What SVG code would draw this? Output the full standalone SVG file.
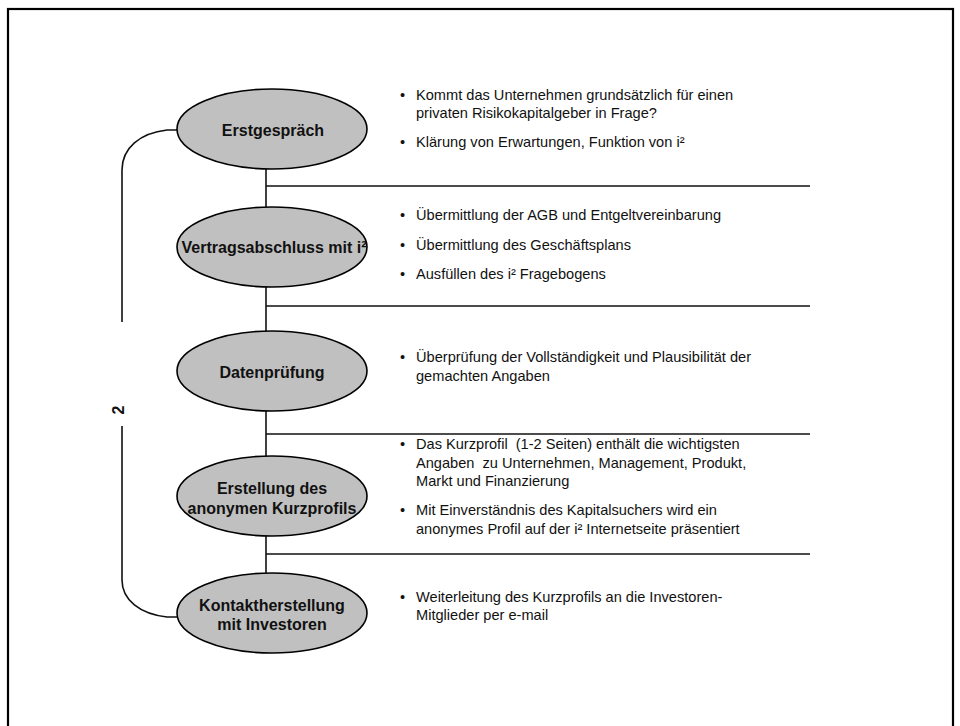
<svg xmlns="http://www.w3.org/2000/svg" width="960" height="726" viewBox="0 0 960 726">
<style>
.node ellipse{fill:#C0C0C0;stroke:#000;stroke-width:1.6}
.lbl{font-family:"Liberation Sans",Arial,sans-serif;font-weight:bold;font-size:16px;fill:#111;text-anchor:middle}
.txt{font-family:"Liberation Sans",Arial,sans-serif;font-size:14.6px;fill:#111}
.conn path,.conn line{fill:none;stroke:#111;stroke-width:1.6}
.sep{stroke:#222;stroke-width:2}
</style>
<rect x="8" y="9" width="945" height="760" fill="#fff" stroke="#000" stroke-width="2.2"/>
<g id="connectors" class="conn">
<line x1="266" y1="169" x2="266" y2="207"/>
<line x1="266" y1="287" x2="266" y2="332"/>
<line x1="266" y1="411" x2="266" y2="457"/>
<line x1="266" y1="536" x2="266" y2="573"/>
<line class="sep" x1="266" y1="186" x2="810" y2="186"/>
<line class="sep" x1="266" y1="306" x2="810" y2="306"/>
<line class="sep" x1="266" y1="434" x2="810" y2="434"/>
<line class="sep" x1="266" y1="554" x2="810" y2="554"/>
<path d="M177,130 L167,130 C140,133 122,148 122,170 L122,322"/>
<path d="M122,426 L122,580 C122,600 140,614 167,617 L177,617"/>
</g>
<text class="lbl" transform="translate(124,410) rotate(-90)">2</text>
<g id="n1" class="node">
<ellipse cx="272" cy="129" rx="95" ry="40"/>
<text class="lbl" x="273" y="136">Erstgespräch</text>
</g>
<g id="n2" class="node">
<ellipse cx="272" cy="247" rx="95" ry="40"/>
<text class="lbl" x="274" y="253">Vertragsabschluss mit i²</text>
</g>
<g id="n3" class="node">
<ellipse cx="272" cy="371" rx="95" ry="40"/>
<text class="lbl" x="272" y="378">Datenprüfung</text>
</g>
<g id="n4" class="node">
<ellipse cx="272" cy="496" rx="95" ry="40"/>
<text class="lbl" x="272" y="494">Erstellung des</text>
<text class="lbl" x="272" y="514">anonymen Kurzprofils</text>
</g>
<g id="n5" class="node">
<ellipse cx="272" cy="613" rx="95" ry="40"/>
<text class="lbl" x="272" y="611">Kontaktherstellung</text>
<text class="lbl" x="272" y="630">mit Investoren</text>
</g>
<g id="t1" class="txt">
<text x="400" y="100">•</text>
<text x="416" y="100">Kommt das Unternehmen grundsätzlich für einen</text>
<text x="416" y="118">privaten Risikokapitalgeber in Frage?</text>
<text x="400" y="147">•</text>
<text x="416" y="147">Klärung von Erwartungen, Funktion von i²</text>
</g>
<g id="t2" class="txt">
<text x="400" y="220">•</text>
<text x="416" y="220">Übermittlung der AGB und Entgeltvereinbarung</text>
<text x="400" y="250">•</text>
<text x="416" y="250">Übermittlung des Geschäftsplans</text>
<text x="400" y="279">•</text>
<text x="416" y="279">Ausfüllen des i² Fragebogens</text>
</g>
<g id="t3" class="txt">
<text x="400" y="362">•</text>
<text x="416" y="362">Überprüfung der Vollständigkeit und Plausibilität der</text>
<text x="416" y="381">gemachten Angaben</text>
</g>
<g id="t4" class="txt">
<text x="400" y="449">•</text>
<text x="416" y="449" xml:space="preserve">Das Kurzprofil  (1-2 Seiten) enthält die wichtigsten</text>
<text x="416" y="468" xml:space="preserve">Angaben  zu Unternehmen, Management, Produkt,</text>
<text x="416" y="486">Markt und Finanzierung</text>
<text x="400" y="515">•</text>
<text x="416" y="515">Mit Einverständnis des Kapitalsuchers wird ein</text>
<text x="416" y="534">anonymes Profil auf der i² Internetseite präsentiert</text>
</g>
<g id="t5" class="txt">
<text x="400" y="602">•</text>
<text x="416" y="602">Weiterleitung des Kurzprofils an die Investoren-</text>
<text x="416" y="620">Mitglieder per e-mail</text>
</g>
</svg>
